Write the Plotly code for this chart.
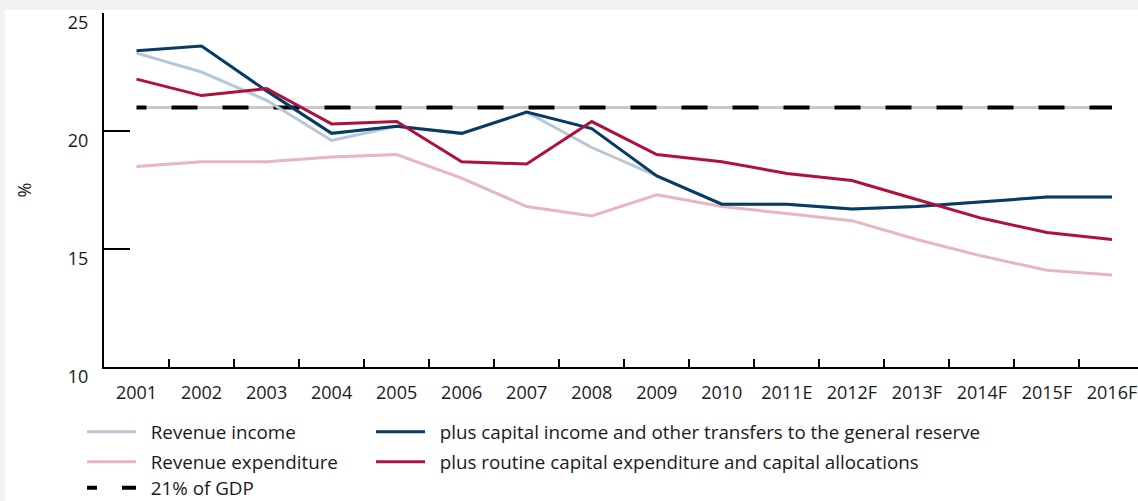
import plotly.graph_objects as go

# Fiscal ratios, % of GDP
years = ["2001", "2002", "2003", "2004", "2005", "2006", "2007", "2008",
         "2009", "2010", "2011E", "2012F", "2013F", "2014F", "2015F", "2016F"]

revenue_income = [23.3, 22.5, 21.3, 19.6, 20.2, 19.9, 20.8, 19.3,
                  18.1, 16.9, 16.9, 16.7, 16.8, 17.0, 17.2, 17.2]
plus_capital_income = [23.4, 23.6, 21.7, 19.9, 20.2, 19.9, 20.8, 20.1,
                       18.1, 16.9, 16.9, 16.7, 16.8, 17.0, 17.2, 17.2]
revenue_expenditure = [18.5, 18.7, 18.7, 18.9, 19.0, 18.0, 16.8, 16.4,
                       17.3, 16.8, 16.5, 16.2, 15.4, 14.7, 14.1, 13.9]
plus_capital_expenditure = [22.2, 21.5, 21.8, 20.3, 20.4, 18.7, 18.6, 20.4,
                            19.0, 18.7, 18.2, 17.9, 17.1, 16.3, 15.7, 15.4]
gdp_benchmark = [21.0] * len(years)

y_ticks = [10, 15, 20, 25]

FONT = "Open Sans"
FS = 18
FS_LEG = 18.8
TXT = "#1a1a1a"
PAD = "\u00a0\u00a0"  # extra space between legend swatch and label

# dash pattern for the 21% reference line: a short lead-in dash then regular dashes
dash_pattern = "10px,25px," + ",".join(["26px,25px"] * 20)

fig = go.Figure()

# grey base of the 21% line
fig.add_trace(go.Scatter(x=years, y=gdp_benchmark, mode="lines",
                         line=dict(color="#c8c8c8", width=3),
                         showlegend=False, hoverinfo="skip"))
fig.add_trace(go.Scatter(x=years, y=gdp_benchmark, mode="lines", name=PAD + "21% of GDP",
                         line=dict(color="#000000", width=4, dash=dash_pattern),
                         legend="legend3"))
fig.add_trace(go.Scatter(x=years, y=revenue_expenditure, mode="lines",
                         name=PAD + "Revenue expenditure",
                         line=dict(color="#e6b6c4", width=3),
                         legend="legend", legendrank=2, legendgroup="g2"))
fig.add_trace(go.Scatter(x=years, y=revenue_income, mode="lines",
                         name=PAD + "Revenue income",
                         line=dict(color="#b7c7d6", width=3),
                         legend="legend", legendrank=1, legendgroup="g1"))
fig.add_trace(go.Scatter(x=years, y=plus_capital_income, mode="lines",
                         name=PAD + "plus capital income and other transfers to the general reserve",
                         line=dict(color="#063b66", width=3),
                         legend="legend2", legendrank=1, legendgroup="g4"))
fig.add_trace(go.Scatter(x=years, y=plus_capital_expenditure, mode="lines",
                         name=PAD + "plus routine capital expenditure and capital allocations",
                         line=dict(color="#b0113c", width=3),
                         legend="legend2", legendrank=2, legendgroup="g5"))

L, T, B = 104, 13, 134
W, H = 1138, 501
pw, ph = W - L, H - T - B


def px_x(x):
    return (x - L) / pw


def px_y(y):
    return (H - B - y) / ph


legend_common = dict(
    orientation="v", xanchor="left", yanchor="top",
    font=dict(family=FONT, size=FS_LEG, color=TXT),
    bgcolor="rgba(0,0,0,0)", borderwidth=0,
    tracegroupgap=2.5, itemwidth=49,
)

fig.update_layout(
    width=W, height=H,
    margin=dict(l=L, r=0, t=T, b=B, autoexpand=False),
    paper_bgcolor="#f2f2f2",
    plot_bgcolor="rgba(0,0,0,0)",
    font=dict(family=FONT, size=FS, color=TXT),
    legend=dict(x=px_x(82), y=px_y(413), **legend_common),
    legend2=dict(x=px_x(371), y=px_y(413), **legend_common),
    legend3=dict(x=px_x(82), y=px_y(469), **legend_common),
    shapes=[dict(type="rect", xref="paper", yref="paper", layer="below",
                 x0=px_x(5), x1=px_x(W + 5), y0=px_y(H + 5), y1=px_y(10),
                 fillcolor="#ffffff", line=dict(width=0))],
    xaxis=dict(
        type="category", range=[-0.5, 15.4],
        showline=True, linecolor="#000000", linewidth=2,
        ticks="inside", ticklen=8, tickwidth=1.5, tickcolor="#000000",
        tickson="boundaries", showgrid=False, zeroline=False,
        tickfont=dict(family=FONT, size=FS, color=TXT),
        ticklabelstandoff=8,
    ),
    yaxis=dict(
        range=[10, 25], tickvals=y_ticks,
        showline=True, linecolor="#000000", linewidth=2,
        ticks="inside", ticklen=26, tickwidth=1.5, tickcolor="#000000",
        showgrid=False, zeroline=False,
        tickfont=dict(family=FONT, size=FS, color=TXT),
        ticklabelstandoff=10, ticklabelshift=10, ticklabeloverflow="allow",
        title=dict(text="%", font=dict(family=FONT, size=FS, color=TXT), standoff=32),
    ),
)

fig.write_html("out.html")
